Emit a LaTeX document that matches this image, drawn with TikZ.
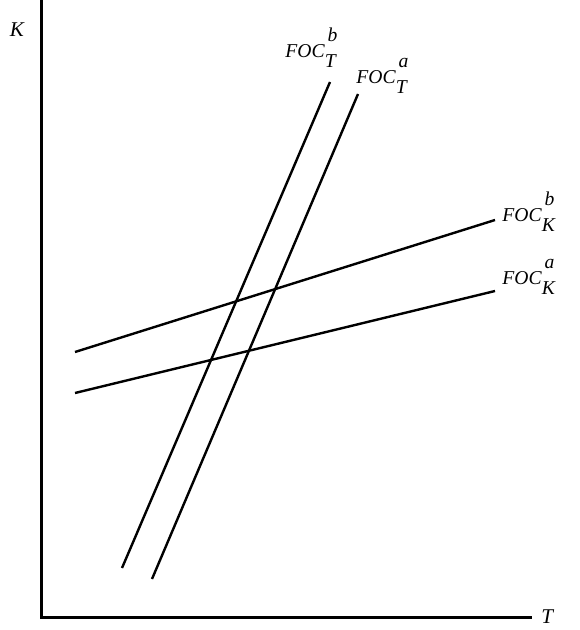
\documentclass[tikz,border=0pt]{standalone}
\usepackage{fontspec}
\setmainfont{Liberation Serif}
\usepackage{tikz}
\usetikzlibrary{positioning}

% label of a first-order condition: FOC with sub- and superscript
\newcommand{\foclbl}[2]{\textit{FOC}\rlap{\hspace{0.14em}\raisebox{0.82em}{\textit{#2}}}\raisebox{-0.5em}{\textit{#1}}}

\begin{document}
\begin{tikzpicture}[
  x=0.5pt, y=-0.5pt,
  font=\fontsize{9.8}{12}\selectfont,
  axis/.style={line width=1.5pt},
  curve/.style={line width=1.2pt},
  lbl/.style={inner sep=0pt, anchor=base west},
  axlbl/.style={inner sep=0pt, font=\fontsize{10.5}{12}\selectfont\itshape}
]
\useasboundingbox (0,0) rectangle (579,630);

% axes
\coordinate (top) at (41,0);
\coordinate (orig) at (41,617);
\coordinate (right) at (532,617);
\draw[axis] (top) -- (orig) -- (right);
\node[axlbl] (klbl) at (17,30) {K};
\node[axlbl, right=9 of right] (tlbl) {T};

% end points of the four curves
\coordinate (tb0) at (122,568);
\coordinate (tb1) at (330,82);
\coordinate (ta0) at (152,579);
\coordinate (ta1) at (358,94);
\coordinate (kb0) at (75,352);
\coordinate (kb1) at (495,220);
\coordinate (ka0) at (75,393);
\coordinate (ka1) at (495,291);

\draw[curve] (tb0) -- (tb1);
\draw[curve] (ta0) -- (ta1);
\draw[curve] (kb0) -- (kb1);
\draw[curve] (ka0) -- (ka1);

% labels
\node[lbl] (ftb) at (285,58) {\foclbl{T}{b}};
\node[lbl] (fta) at (356,84) {\foclbl{T}{a}};
\node[lbl] (fkb) at (502,222) {\foclbl{K}{b}};
\node[lbl] (fka) at (502,285) {\foclbl{K}{a}};
\end{tikzpicture}
\end{document}
